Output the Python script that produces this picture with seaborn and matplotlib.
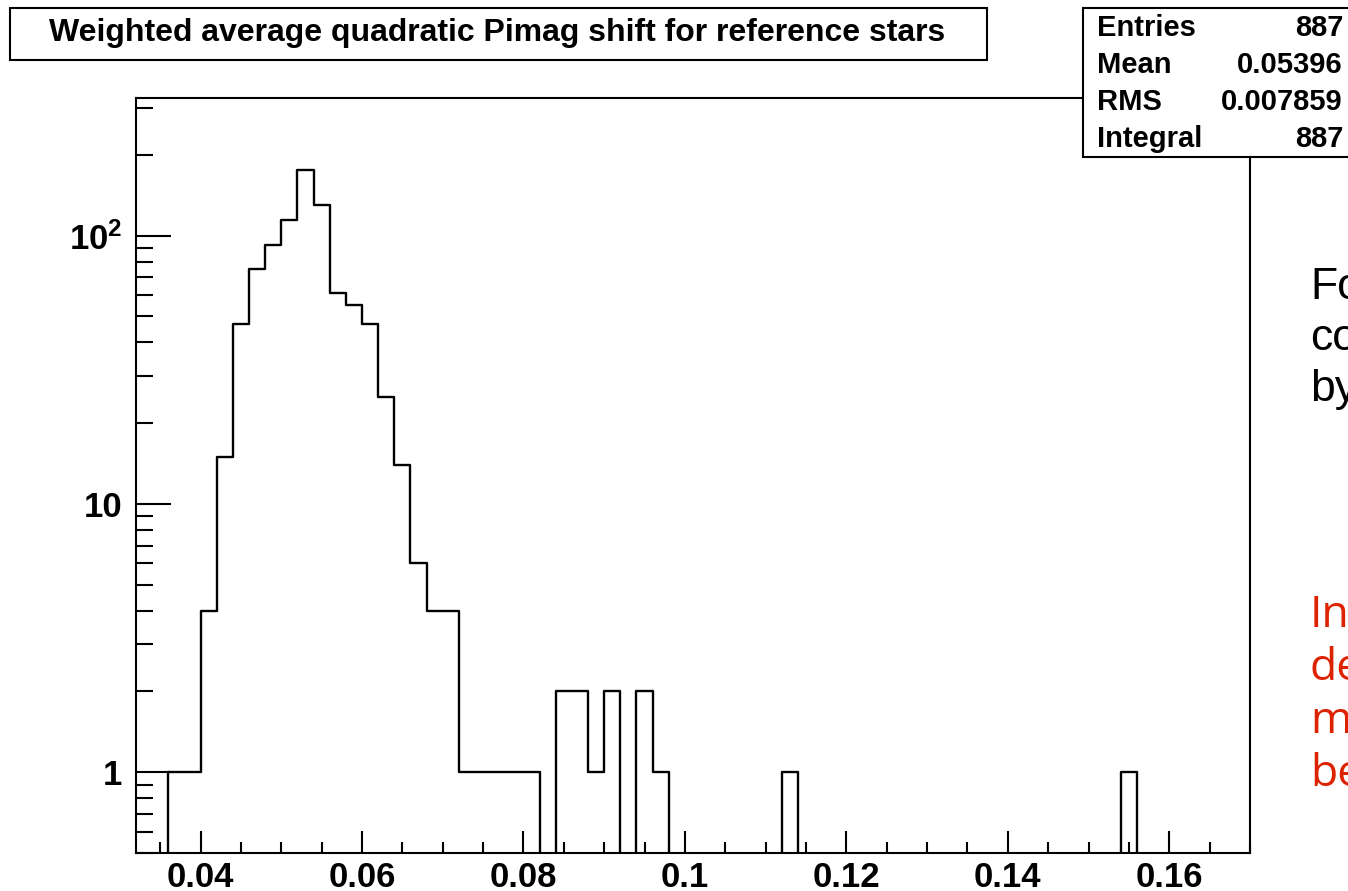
import numpy as np
import matplotlib
matplotlib.use("Agg")
import matplotlib.pyplot as plt
from matplotlib.patches import Rectangle
from matplotlib.ticker import FixedLocator, FixedFormatter, LogLocator, NullFormatter, MultipleLocator
import seaborn as sns

sns.set_style("white")
plt.rcParams["font.family"] = ["Liberation Sans", "DejaVu Sans"]
plt.rcParams["text.color"] = "black"
plt.rcParams["mathtext.fontset"] = "custom"
plt.rcParams["mathtext.rm"] = "Liberation Sans:bold"
plt.rcParams["mathtext.bf"] = "Liberation Sans:bold"
plt.rcParams["mathtext.it"] = "Liberation Sans:bold"

# Histogram binning
x_min, x_max, bin_width = 0.032, 0.170, 0.002

# Lower edges of the filled bins and their counts
bin_lows = [0.036, 0.038, 0.040, 0.042, 0.044, 0.046, 0.048, 0.050, 0.052, 0.054,
            0.056, 0.058, 0.060, 0.062, 0.064, 0.066, 0.068, 0.070, 0.072, 0.074,
            0.076, 0.078, 0.080, 0.084, 0.086, 0.088, 0.090, 0.094, 0.096, 0.112,
            0.154]
counts = [1, 1, 4, 15, 47, 75, 92, 114, 175, 130,
          61, 55, 47, 25, 14, 6, 4, 4, 1, 1,
          1, 1, 1, 2, 2, 1, 2, 2, 1, 1,
          1]

title = "Weighted average quadratic Pimag shift for reference stars"
stat_names = ["Entries", "Mean", "RMS", "Integral"]
stat_values = ["887", "0.05396", "0.007859", "887"]

x_tick_values = [0.04, 0.06, 0.08, 0.10, 0.12, 0.14, 0.16]
x_tick_labels = ["0.04", "0.06", "0.08", "0.1", "0.12", "0.14", "0.16"]
y_tick_values = [1, 10, 100]
y_tick_labels = ["1", "10", r"$10^{2}$"]

note_black = ["Fo", "co", "by"]
note_red = ["In", "de", "m", "be"]

W, H = 1348, 891
fig = plt.figure(figsize=(W / 100, H / 100), dpi=100)
fig.patch.set_facecolor("white")

def fx(px):
    return px / W

def fy(py):
    return 1 - py / H

ax = fig.add_axes([fx(136), fy(853), fx(1250) - fx(136), fy(98) - fy(853)])

# one entry per star, placed at the centre of its bin
shifts = np.repeat(np.array(bin_lows) + bin_width / 2, counts)

sns.histplot(x=shifts, binwidth=bin_width, binrange=(x_min, x_max), element="step",
             fill=False, color="black", linewidth=1.7, ax=ax)

ax.set_yscale("log")
ax.set_xlim(x_min, x_max)
ax.set_ylim(0.5, 326)
ax.set_xlabel("")
ax.set_ylabel("")
ax.grid(False)

ax.xaxis.set_major_locator(FixedLocator(x_tick_values))
ax.xaxis.set_major_formatter(FixedFormatter(x_tick_labels))
ax.xaxis.set_minor_locator(MultipleLocator(0.005))
ax.xaxis.set_minor_formatter(NullFormatter())
ax.yaxis.set_major_locator(FixedLocator(y_tick_values))
ax.yaxis.set_major_formatter(FixedFormatter(y_tick_labels))
ax.yaxis.set_minor_locator(LogLocator(base=10, subs=np.arange(2, 10)))
ax.yaxis.set_minor_formatter(NullFormatter())

ax.tick_params(axis="both", which="both", direction="in", bottom=True, left=True,
               top=False, right=False, width=1.5, color="black", labelcolor="black")
ax.tick_params(axis="x", which="major", length=16, pad=6, labelsize=25)
ax.tick_params(axis="x", which="minor", length=8)
ax.tick_params(axis="y", which="major", length=25, pad=10, labelsize=25)
ax.tick_params(axis="y", which="minor", length=12)
for lab in ax.get_xticklabels() + ax.get_yticklabels():
    lab.set_fontweight("bold")

for sp in ax.spines.values():
    sp.set_visible(True)
    sp.set_color("black")
    sp.set_linewidth(1.5)

# Title box
fig.add_artist(Rectangle((fx(10), fy(60)), fx(987) - fx(10), fy(8) - fy(60),
                         transform=fig.transFigure, facecolor="white",
                         edgecolor="black", linewidth=1.5, zorder=5))
fig.text(fx(497), fy(33), title, ha="center", va="center", color="black",
         fontsize=23, fontweight="bold", zorder=6)

# Statistics box
fig.add_artist(Rectangle((fx(1083), fy(157)), fx(1360) - fx(1083), fy(8) - fy(157),
                         transform=fig.transFigure, facecolor="white",
                         edgecolor="black", linewidth=1.5, zorder=5))
for i, (name, val) in enumerate(zip(stat_names, stat_values)):
    yb = 36 + 37 * i
    fig.text(fx(1097), fy(yb), name, ha="left", va="baseline", color="black",
             fontsize=21, fontweight="bold", zorder=6)
    fig.text(fx(1343), fy(yb), val, ha="right", va="baseline", color="black",
             fontsize=21, fontweight="bold", zorder=6)

# Side notes
for i, s in enumerate(note_black):
    fig.text(fx(1310), fy(299 + 51 * i), s, ha="left", va="baseline",
             fontsize=32, color="black", family=["Liberation Sans"])
for i, s in enumerate(note_red):
    fig.text(fx(1310), fy(627 + 53 * i), s, ha="left", va="baseline",
             fontsize=32, color="#dd2200", family=["Open Sans", "Liberation Sans"])

fig.savefig("out.png", dpi=100, facecolor="white")
